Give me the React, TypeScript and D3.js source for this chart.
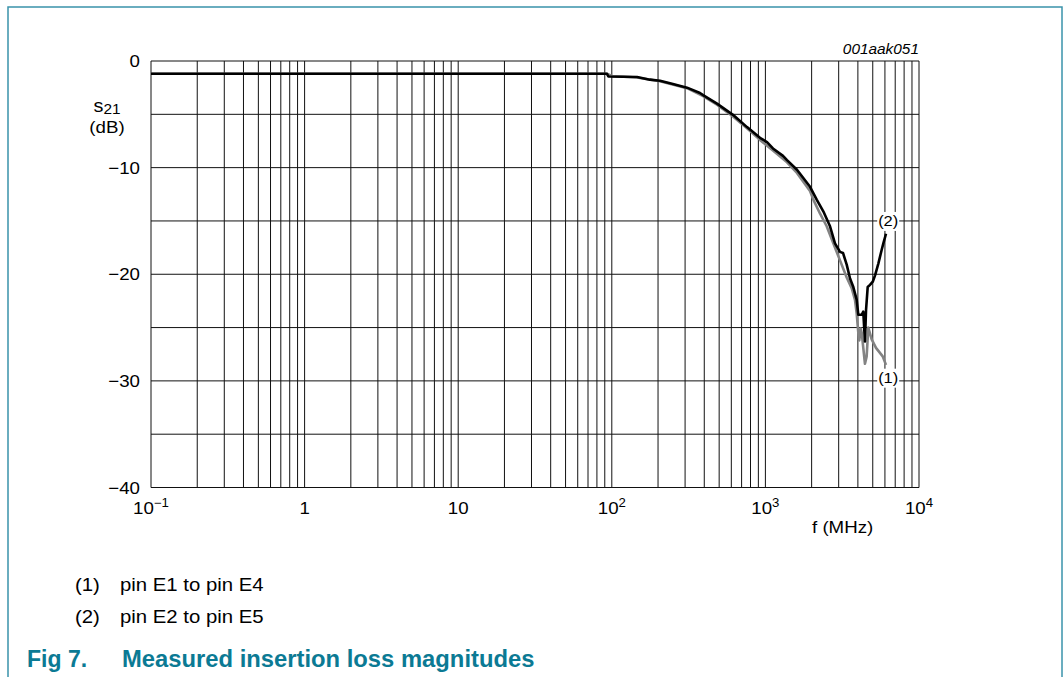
import { useEffect, useRef } from "react";
import * as d3 from "d3";

// curve (2): pin E2 to pin E5 (black)
const freq2 = [
  0.1, 93, 95, 146, 177, 206, 250, 309, 375, 393, 484, 615, 759, 922, 1024, 1120, 1302, 1383, 1605,
  1952, 2158, 2382, 2634, 2838, 3060, 3200, 3383, 3556, 3736, 3930, 4027, 4237, 4337, 4448, 4519,
  4634, 4797, 5000, 5174, 5436, 5717, 5860, 6098,
];
const s21_2 = [
  -1.2, -1.2, -1.45, -1.5, -1.75, -1.85, -2.15, -2.5, -3.0, -3.2, -4.0, -5.05, -6.2, -7.2, -7.6, -8.2,
  -8.9, -9.3, -10.2, -11.8, -13.0, -14.1, -15.5, -17.1, -17.9, -18.0, -19.1, -20.4, -21.2, -22.4,
  -23.8, -23.8, -23.5, -26.3, -23.4, -21.2, -21.0, -20.7, -20.1, -19.0, -17.7, -17.1, -16.2,
];

// curve (1): pin E1 to pin E4 (grey)
const freq1 = [
  0.1, 93, 100, 146, 206, 309, 393, 484, 615, 759, 922, 1120, 1383, 1605, 1952, 2051, 2266, 2506,
  2768, 3060, 3383, 3645, 3830, 3930, 4027, 4086, 4170, 4237, 4448, 4563, 4677, 4920, 5248, 5520,
  5803, 6098,
];
const s21_1 = [
  -1.2, -1.2, -1.4, -1.55, -1.9, -2.55, -3.3, -4.1, -5.2, -6.3, -7.4, -8.4, -9.5, -10.5, -12.2,
  -13.0, -14.3, -15.5, -17.1, -18.7, -20.3, -21.3, -22.4, -23.7, -25.5, -26.2, -25.1, -25.5, -28.4,
  -27.7, -25.0, -26.1, -26.9, -27.3, -27.7, -28.5,
];

const xTicks = [0.1, 1, 10, 100, 1000, 10000];
const xTickBase = ["10", "1", "10", "10", "10", "10"];
const xTickExp = ["\u22121", "", "", "2", "3", "4"];
const yTicks = [0, -10, -20, -30, -40];
const legendKeys = ["(1)", "(2)"];
const legendLabels = ["pin E1 to pin E4", "pin E2 to pin E5"];

const SX = 1.1; // the reference text is a little wider than Arial
const FONT = "'Liberation Sans', Arial, sans-serif";
const TEAL = "#0b7a94";

export default function App() {
  const ref = useRef<SVGSVGElement | null>(null);

  useEffect(() => {
    if (!ref.current) return;
    const svg = d3.select(ref.current);
    svg.selectAll("*").remove();

    const x = d3.scaleLog().domain([0.1, 1e4]).range([151, 919]);
    const y = d3.scaleLinear().domain([-40, 0]).range([487.5, 61]);

    const text = (
      px: number,
      py: number,
      size: number,
      anchor = "start",
      sx = SX
    ) =>
      svg
        .append("text")
        .attr("transform", `translate(${px},${py}) scale(${sx},1)`)
        .attr("font-family", FONT)
        .attr("font-size", size)
        .attr("text-anchor", anchor)
        .attr("fill", "#000");

    // frame
    svg
      .append("rect")
      .attr("x", 8)
      .attr("y", 7)
      .attr("width", 1054)
      .attr("height", 700)
      .attr("fill", "none")
      .attr("stroke", "#3a93ab")
      .attr("stroke-width", 1.5);

    // grid
    const vLines: number[] = [];
    [0.1, 1, 10, 100, 1000].forEach((d) => {
      for (let k = 1; k <= 9; k++) vLines.push(d * k);
    });
    vLines.push(1e4);
    const grid = svg.append("g").attr("stroke", "#111").attr("stroke-width", 1);
    grid
      .selectAll("line.v")
      .data(vLines)
      .join("line")
      .attr("x1", (d) => x(d))
      .attr("x2", (d) => x(d))
      .attr("y1", y(0))
      .attr("y2", y(-40));
    grid
      .selectAll("line.h")
      .data(d3.range(-40, 1, 5))
      .join("line")
      .attr("x1", x(0.1))
      .attr("x2", x(1e4))
      .attr("y1", (d) => y(d))
      .attr("y2", (d) => y(d));

    // curves
    const line = d3
      .line<[number, number]>()
      .x((d) => x(d[0]))
      .y((d) => y(d[1]));
    const series = [
      { f: freq1, v: s21_1, color: "#838383" },
      { f: freq2, v: s21_2, color: "#000" },
    ];
    series.forEach((s) => {
      svg
        .append("path")
        .attr("d", line(s.f.map((f, i) => [f, s.v[i]] as [number, number])))
        .attr("fill", "none")
        .attr("stroke", s.color)
        .attr("stroke-width", 2.6)
        .attr("stroke-linejoin", "round");
    });

    // curve labels with white background
    const curveLabels = [
      { t: "(2)", f: 7000, v: -15 },
      { t: "(1)", f: 7000, v: -29.7 },
    ];
    curveLabels.forEach((c) => {
      const cx = x(c.f) - 7;
      const cy = y(c.v);
      svg
        .append("rect")
        .attr("x", cx - 11)
        .attr("y", cy - 9)
        .attr("width", 22)
        .attr("height", 19)
        .attr("fill", "#fff");
      text(cx, cy + 5.5, 15, "middle").text(c.t);
    });

    // y tick labels
    yTicks.forEach((v) => {
      text(140, y(v) + 6, 17, "end").text(v === 0 ? "0" : `\u2212${Math.abs(v)}`);
    });

    // x tick labels
    xTicks.forEach((v, i) => {
      const t = text(x(v), 514, 17, "middle");
      t.append("tspan").text(xTickBase[i]);
      if (xTickExp[i])
        t.append("tspan").attr("font-size", 12).attr("dy", -7).text(xTickExp[i]);
    });

    // axis titles
    const yt = text(107, 112, 18, "middle");
    yt.append("tspan").text("s");
    yt.append("tspan").attr("font-size", 14).attr("dy", 2).text("21");
    text(107, 133, 17, "middle").text("(dB)");
    text(812, 533, 17, "start").text("f (MHz)");

    text(919, 54, 14, "end").attr("font-style", "italic").text("001aak051");

    // legend
    legendKeys.forEach((k, i) => {
      text(75, 591 + i * 32, 18.5, "start").text(k);
      text(120, 591 + i * 32, 18.5, "start").text(legendLabels[i]);
    });

    // caption
    text(27, 667, 23, "start", 1.0)
      .attr("font-weight", "bold")
      .attr("fill", TEAL)
      .text("Fig 7.");
    text(122, 667, 23, "start", 1.035)
      .attr("font-weight", "bold")
      .attr("fill", TEAL)
      .text("Measured insertion loss magnitudes");
  }, []);

  return (
    <div style={{ position: "absolute", left: 0, top: 0 }}>
      <svg ref={ref} width={1063} height={677} style={{ display: "block", background: "#fff" }} />
    </div>
  );
}
